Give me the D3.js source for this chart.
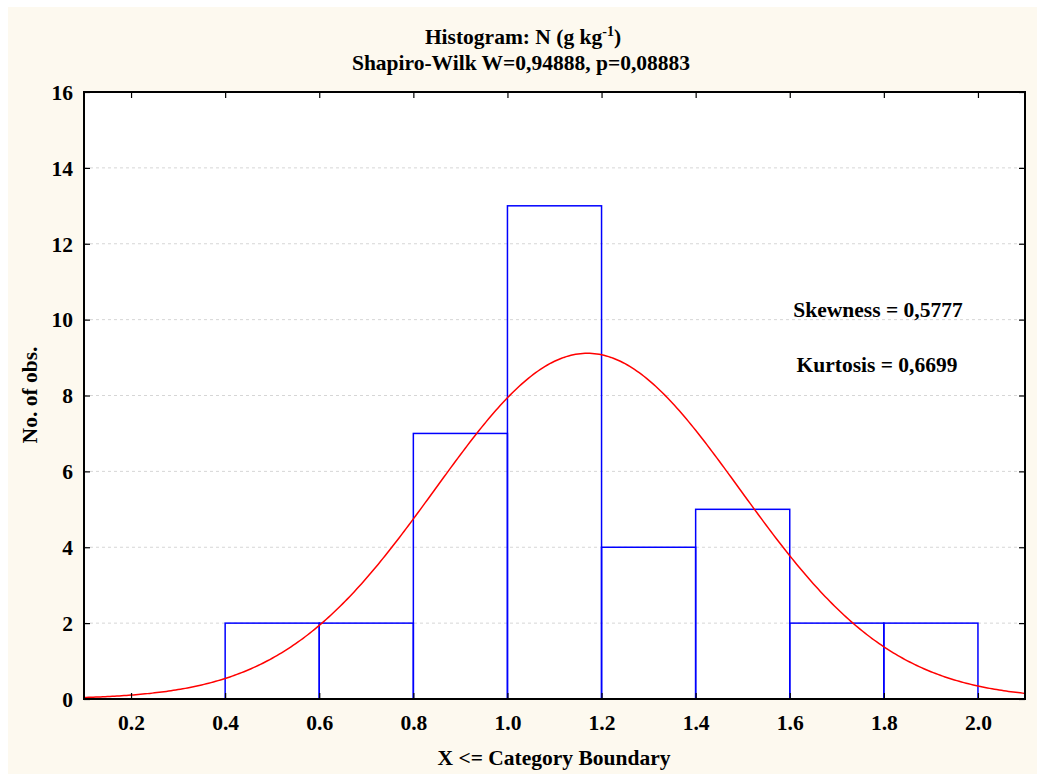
<!DOCTYPE html>
<html><head><meta charset="utf-8">
<script src="https://cdn.jsdelivr.net/npm/d3@7/dist/d3.min.js"></script>
<style>body{margin:0;background:#fff;} text{font-family:"Liberation Serif","Times New Roman",serif;font-weight:bold;}</style>
</head><body>
<svg id="c" width="1037" height="774"></svg>
<script>
// Data
const binStarts = [0.4, 0.6, 0.8, 1.0, 1.2, 1.4, 1.6, 1.8];
const binCounts = [2, 2, 7, 13, 4, 5, 2, 2];
const binWidth = 0.2;
const xTicks = [0.2, 0.4, 0.6, 0.8, 1.0, 1.2, 1.4, 1.6, 1.8, 2.0];
const yTicks = [0, 2, 4, 6, 8, 10, 12, 14, 16];
const fitMean = 1.17, fitSd = 0.324, nObs = 37;

const svg = d3.select("#c");
svg.append("rect").attr("x",8).attr("y",7).attr("width",1029).attr("height",767).attr("fill","#fdf9ef");

const L=84, R=1025, T=92, B=699;
const x = d3.scaleLinear().domain([0.1, 2.1]).range([L, R]);
const y = d3.scaleLinear().domain([0, 16]).range([B, T]);

svg.append("rect").attr("x",L).attr("y",T).attr("width",R-L).attr("height",B-T).attr("fill","#fff");

// grid
svg.append("g").selectAll("line").data(yTicks.filter(d=>d>0&&d<16)).join("line")
  .attr("x1",L).attr("x2",R).attr("y1",d=>y(d)).attr("y2",d=>y(d))
  .attr("stroke","#d6d6d6").attr("stroke-width",1).attr("stroke-dasharray","3,3");

// bars
svg.append("g").selectAll("rect").data(binStarts.map((s,i)=>({s,c:binCounts[i]}))).join("rect")
  .attr("x",d=>x(d.s)).attr("width",d=>x(d.s+binWidth)-x(d.s))
  .attr("y",d=>y(d.c)).attr("height",d=>y(0)-y(d.c))
  .attr("fill","none").attr("stroke","#0000ff").attr("stroke-width",1.5);

// normal curve
const xs = d3.range(0.1, 2.1001, 0.005);
const pdf = v => nObs*binWidth/(fitSd*Math.sqrt(2*Math.PI))*Math.exp(-((v-fitMean)**2)/(2*fitSd*fitSd));
svg.append("clipPath").attr("id","pc").append("rect").attr("x",L).attr("y",T).attr("width",R-L).attr("height",B-T);
svg.append("path").attr("clip-path","url(#pc)").datum(xs).attr("d",d3.line().x(d=>x(d)).y(d=>y(pdf(d))))
  .attr("fill","none").attr("stroke","#ff0000").attr("stroke-width",1.5);

// axes
const fs = 21.5;
const xb = svg.append("g").attr("transform",`translate(0,${B})`).call(d3.axisBottom(x).tickValues(xTicks).tickFormat(d3.format(".1f")).tickSizeInner(-6).tickSizeOuter(0));
xb.selectAll("text").attr("y",31).attr("dy",0);
const xt = svg.append("g").attr("transform",`translate(0,${T})`).call(d3.axisTop(x).tickValues(xTicks).tickFormat("").tickSizeInner(-6).tickSizeOuter(0));
const yl = svg.append("g").attr("transform",`translate(${L},0)`).call(d3.axisLeft(y).tickValues(yTicks).tickFormat(d3.format("d")).tickSizeInner(-6).tickSizeOuter(0));
yl.selectAll("text").attr("x",-11).attr("dy","0.34em");
const yr = svg.append("g").attr("transform",`translate(${R},0)`).call(d3.axisRight(y).tickValues(yTicks).tickFormat("").tickSizeInner(-6).tickSizeOuter(0));
[xb,xt,yl,yr].forEach(g=>{g.select(".domain").remove();g.selectAll("line").attr("stroke","#000").attr("stroke-width",1.2);g.selectAll("text").attr("font-size",fs).attr("fill","#000").style("font-family",'"Liberation Serif",serif').style("font-weight","bold");});
svg.append("rect").attr("x",L).attr("y",T).attr("width",R-L).attr("height",B-T).attr("fill","none").attr("stroke","#000").attr("stroke-width",2);

// titles
const t1 = svg.append("text").attr("x",523).attr("y",44).attr("text-anchor","middle").attr("font-size",fs);
t1.append("tspan").text("Histogram: N (g kg");
t1.append("tspan").attr("font-size",14).attr("dy",-8).text("-1");
t1.append("tspan").attr("dy",8).text(")");
svg.append("text").attr("x",521).attr("y",70).attr("text-anchor","middle").attr("font-size",fs).text("Shapiro-Wilk W=0,94888, p=0,08883");
svg.append("text").attr("x",554).attr("y",765).attr("text-anchor","middle").attr("font-size",fs).text("X <= Category Boundary");
svg.append("text").attr("transform","translate(37,395) rotate(-90)").attr("text-anchor","middle").attr("font-size",fs).text("No. of obs.");
svg.append("text").attr("x",878).attr("y",317).attr("text-anchor","middle").attr("font-size",fs).text("Skewness = 0,5777");
svg.append("text").attr("x",877).attr("y",372).attr("text-anchor","middle").attr("font-size",fs).text("Kurtosis = 0,6699");
</script>
</body></html>
